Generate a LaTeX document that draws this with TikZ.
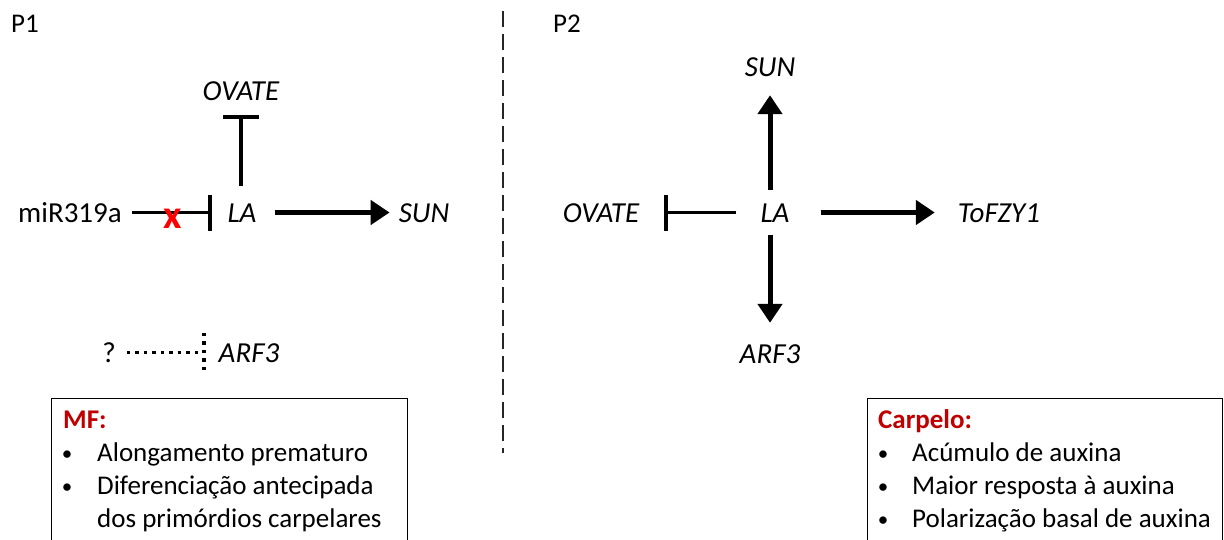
\documentclass[tikz,border=0pt]{standalone}
\usepackage{fontspec}
\setmainfont{Carlito}
\usetikzlibrary{arrows.meta}
\definecolor{titlered}{RGB}{192,0,0}
\definecolor{markred}{RGB}{255,0,0}
\tikzset{
  x=1pt, y=-1pt,
  base/.style={font=\fontsize{27}{33}\selectfont},
  gene/.style={font=\fontsize{29}{35}\selectfont\itshape, inner sep=0pt,
    text height=19pt, text depth=0pt, anchor=base},
  plain/.style={font=\fontsize{29}{35}\selectfont, inner sep=0pt,
    text height=19pt, text depth=0pt, anchor=base},
  panel/.style={base, inner sep=0pt, anchor=base west},
  boxline/.style={base, inner sep=0pt, anchor=base west},
  bullet/.style={font=\fontsize{21}{21}\selectfont, inner sep=0pt, anchor=base},
  boxtitle/.style={boxline, font=\fontsize{27}{33}\selectfont\bfseries, text=titlered},
  act/.style={line width=5pt, -{Triangle[length=19pt,width=24pt]}},
  inh/.style={line width=3.5pt, -{Bar[width=36pt,line width=4pt]}},
  dotline/.style={line width=3.5pt, dash pattern=on 3.5pt off 5pt},
  divider/.style={line width=2pt, dash pattern=on 16pt off 7pt, black!85},
  infobox/.style={draw, line width=1.4pt, inner sep=0pt, anchor=north west},
}
\begin{document}
\begin{tikzpicture}
\useasboundingbox (0,0) rectangle (1224,539);

% panel labels
\node[panel] (p1) at (11,32) {P1};
\node[panel] (p2) at (553,32) {P2};

% divider between the two panels
\coordinate (dtop) at (503,11);
\coordinate (dbot) at (503,453);
\draw[divider] (dtop) -- (dbot);

% ---------- P1 ----------
\node[gene] (ovate1) at (241,100) {OVATE};
\node[plain] (mir) at (70,222) {miR319a};
\node[gene] (la1) at (242,222) {LA};
\node[gene] (sun1) at (424,222) {SUN};

\draw[inh, shorten <=10pt, shorten >=15pt] (mir) -- (la1);
\node[inner sep=0pt, anchor=base, text=markred,
  font=\fontsize{40}{40}\selectfont\bfseries] (xmark) at (173,228) {x};
\draw[inh, shorten <=17pt, shorten >=15pt] (la1.north -| ovate1.south) -- (ovate1.south);
\draw[act, shorten <=18pt, shorten >=9pt] (la1) -- (sun1);

\node[plain] (q) at (109,362) {?};
\node[gene] (arf1) at (249,362) {ARF3};
\coordinate (arfbar) at (204,351);
\draw[dotline, shorten <=11pt, shorten >=17pt] (q) -- (arf1);
\draw[dotline] ([yshift=-19pt]arfbar) -- ([yshift=19pt]arfbar);

% ---------- P2 ----------
\node[gene] (sun2) at (770,76) {SUN};
\node[gene] (ovate2) at (601,222) {OVATE};
\node[gene] (la2) at (775,222) {LA};
\node[gene] (tofzy) at (999,222) {ToFZY1};
\node[gene] (arf2) at (770,363) {ARF3};

\draw[act, shorten <=13pt, shorten >=19pt] (la2.north -| sun2.south) -- (sun2.south);
\draw[act, shorten <=13pt, shorten >=21pt] (la2.south -| arf2.north) -- (arf2.north);
\draw[inh, shorten <=24pt, shorten >=25pt] (la2) -- (ovate2);
\draw[act, shorten <=31pt, shorten >=23pt] (la2) -- (tofzy);

% ---------- summary boxes ----------
\node[infobox, minimum width=356pt, minimum height=150pt] (mfbox) at (51,398) {};
\node[boxtitle] (mft) at (63,428) {MF:};
\node[bullet] (mfb1) at (67,460) {•};
\node[boxline] (mf1) at (97,461) {Alongamento prematuro};
\node[bullet] (mfb2) at (67,493) {•};
\node[boxline] (mf2) at (97,494) {Diferenciação antecipada};
\node[boxline] (mf3) at (97,527) {dos primórdios carpelares};

\node[infobox, minimum width=355pt, minimum height=150pt] (cbox) at (867,398) {};
\node[boxtitle] (ct) at (878,428) {Carpelo:};
\node[bullet] (cb1) at (883,460) {•};
\node[boxline] (c1) at (912,461) {Acúmulo de auxina};
\node[bullet] (cb2) at (883,493) {•};
\node[boxline] (c2) at (912,494) {Maior resposta à auxina};
\node[bullet] (cb3) at (883,526) {•};
\node[boxline] (c3) at (912,527) {Polarização basal de auxina};
\end{tikzpicture}
\end{document}
